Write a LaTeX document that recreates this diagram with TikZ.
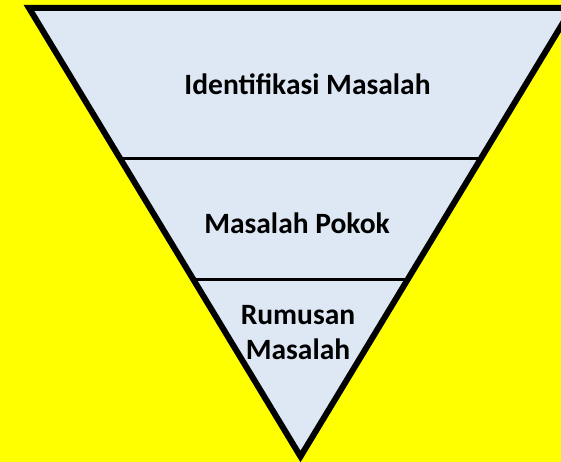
\documentclass[tikz,border=0pt]{standalone}
\usepackage{fontspec}
\setmainfont{Carlito}
\definecolor{bgyellow}{HTML}{FFFF00}
\definecolor{funnelfill}{HTML}{DDE8F4}
\begin{document}
\begin{tikzpicture}[x=1pt,y=-1pt,
  funneltext/.style={font=\bfseries\fontsize{29.5}{34.4}\selectfont, inner sep=0pt, anchor=base, align=center},
  outline/.style={draw=black, line width=6pt, line join=miter},
  divider/.style={draw=black, line width=3pt}]
\useasboundingbox (0,0) rectangle (561,462);
\fill[bgyellow] (0,0) rectangle (561,462);
\clip (0,0) rectangle (561,462);
% funnel corners
\coordinate (tl) at (29,8);
\coordinate (tr) at (572,8);
\coordinate (apex) at (300.5,456.5);
% divider end points on the slanted sides
\coordinate (d1l) at (120.5,159);
\coordinate (d1r) at (480.5,159);
\coordinate (d2l) at (193.1,279);
\coordinate (d2r) at (407.9,279);
\fill[funnelfill] (tl) -- (tr) -- (apex) -- cycle;
\draw[divider] (d1l) -- (d1r);
\draw[divider] (d2l) -- (d2r);
\draw[outline] (tl) -- (tr) -- (apex) -- cycle;
% labels (base anchor of the two-line label sits on its last line)
\node[funneltext] (ident) at (307.5,95) {Identifikasi Masalah};
\node[funneltext] (pokok) at (297,233) {Masalah Pokok};
\node[funneltext] (rumusan) at (298,359) {Rumusan\\Masalah};
\end{tikzpicture}
\end{document}
